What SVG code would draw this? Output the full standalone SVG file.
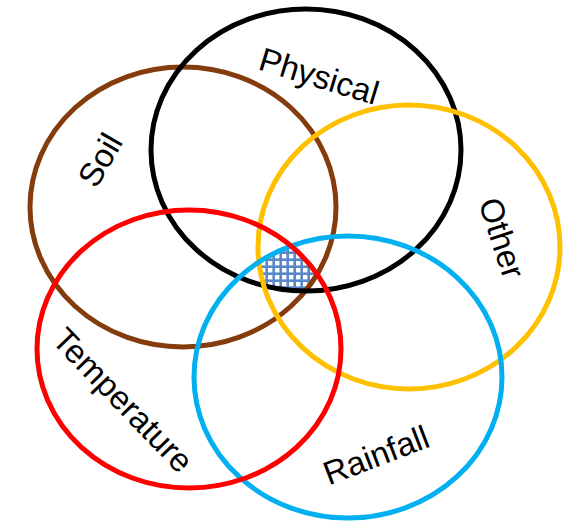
<svg xmlns="http://www.w3.org/2000/svg" width="577" height="527" viewBox="0 0 577 527">
<style>
.ring{fill:none;stroke-width:5}
.lbl{font-family:"Liberation Sans",Arial,sans-serif;font-size:33px;fill:#000;text-anchor:middle;dominant-baseline:central}
</style>
<defs>
<pattern id="hatch" width="7" height="7" patternUnits="userSpaceOnUse">
<rect width="7" height="7" fill="#5a87c8"/>
<rect x="2" y="2" width="4.4" height="4.4" fill="#fff"/>
</pattern>
<clipPath id="cSoil"><ellipse cx="183" cy="207" rx="153" ry="140"/></clipPath>
<clipPath id="cPhys"><ellipse cx="306" cy="150" rx="155" ry="141"/></clipPath>
<clipPath id="cOther"><ellipse cx="409" cy="247" rx="151" ry="142"/></clipPath>
<clipPath id="cTemp"><ellipse cx="189" cy="349" rx="152" ry="139"/></clipPath>
<clipPath id="cRain"><ellipse cx="348" cy="377" rx="154" ry="141"/></clipPath>
</defs>
<rect width="577" height="527" fill="#fff"/>
<g id="overlap">
<g clip-path="url(#cSoil)"><g clip-path="url(#cPhys)"><g clip-path="url(#cOther)"><g clip-path="url(#cTemp)"><g clip-path="url(#cRain)">
<rect x="240" y="220" width="100" height="80" fill="url(#hatch)"/>
</g></g></g></g></g>
</g>
<g id="soil">
<ellipse class="ring" cx="183" cy="207" rx="153" ry="140" stroke="#843c0c"/>
<text class="lbl" transform="translate(100,160) rotate(-60)">Soil</text>
</g>
<g id="physical">
<ellipse class="ring" cx="306" cy="150" rx="155" ry="141" stroke="#000"/>
<text class="lbl" transform="translate(319,76) rotate(17)">Physical</text>
</g>
<g id="other">
<ellipse class="ring" cx="409" cy="247" rx="151" ry="142" stroke="#ffc000"/>
<text class="lbl" transform="translate(502,238) rotate(72)">Other</text>
</g>
<g id="rainfall">
<ellipse class="ring" cx="348" cy="377" rx="154" ry="141" stroke="#00b0f0"/>
<text class="lbl" transform="translate(376,455) rotate(-21)">Rainfall</text>
</g>
<g id="temperature">
<ellipse class="ring" cx="189" cy="349" rx="152" ry="139" stroke="#ff0000"/>
<text class="lbl" transform="translate(123,400) rotate(46)">Temperature</text>
</g>
</svg>
